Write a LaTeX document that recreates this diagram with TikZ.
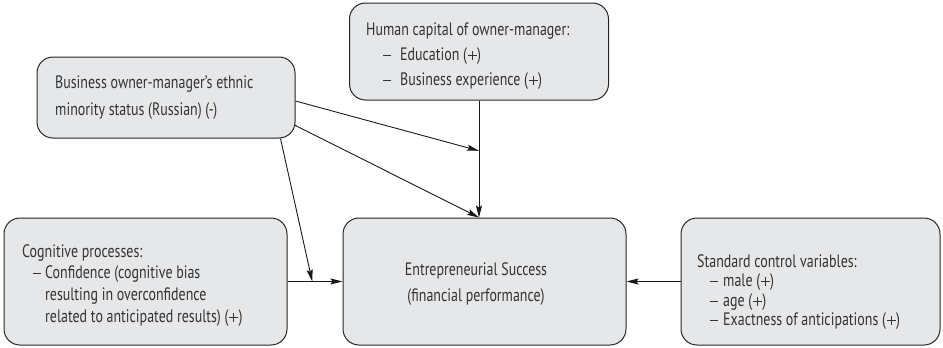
\documentclass[tikz,border=0pt]{standalone}
\usepackage{fontspec}
\setmainfont[FakeStretch=0.775]{PT Sans}
\usetikzlibrary{arrows.meta,calc}
\definecolor{boxfill}{HTML}{E6E7E9}
\definecolor{textcol}{HTML}{333333}
\newcommand\fstrut{\rule{0pt}{13.5pt}}
\newcommand\dsh{\raisebox{4.6pt}{\rule{8pt}{0.9pt}}}
\newcommand\itm[2]{\hspace*{#1}\makebox[#2][l]{\dsh}}
\newcommand\pl{\makebox[10pt]{\rlap{\hspace*{4pt}\rule[0.6pt]{0.9pt}{8.9pt}}\rule[4.6pt]{8.9pt}{0.9pt}}}
\begin{document}
\begin{tikzpicture}[x=1pt,y=-1pt,
  box/.style={draw=black!85, fill=boxfill, rounded corners=16pt, line width=1pt, inner sep=0pt},
  txt/.style={align=left, inner sep=0pt, anchor=north west, text=textcol},
  arr/.style={line width=0.9pt, draw=black!90, -{Stealth[length=12pt,width=6pt,inset=2pt]}},
]
\useasboundingbox (0,0) rectangle (943,348);

% boxes
\node[box, minimum width=258pt, minimum height=81pt] (ethnic) at (166,97.5) {};
\node[box, minimum width=259pt, minimum height=97pt] (human) at (479,51.5) {};
\node[box, minimum width=283pt, minimum height=127pt] (cog) at (145.5,281.5) {};
\node[box, minimum width=283pt, minimum height=127pt] (success) at (484.5,281.5) {};
\node[box, minimum width=259pt, minimum height=127pt] (std) at (810.5,281.5) {};

% texts
\node[txt, font=\fontsize{18}{27}\selectfont] (ethnicT) at (55,74.5)
  {\fstrut Business owner-manager’s ethnic\\minority status (Russian) (-)};
\node[txt, font=\fontsize{18}{25}\selectfont] (humanT) at (366,21.5)
  {\fstrut Human capital of owner-manager:\\
   \itm{17pt}{17pt}Education (\pl)\\
   \itm{17pt}{17pt}Business experience (\pl)};
\node[txt, font=\fontsize{18}{21.7}\selectfont] (cogT) at (22,243.5)
  {\fstrut Cognitive processes:\\
   \itm{11pt}{12pt}Confidence (cognitive bias\\
   \hspace*{23pt}resulting in overconfidence\\
   \hspace*{23pt}related to anticipated results) (\pl)};
\node[txt, font=\fontsize{18}{19.5}\selectfont] (stdT) at (697,253.5)
  {\fstrut Standard control variables:\\
   \itm{13pt}{13pt}male (\pl)\\
   \itm{13pt}{13pt}age (\pl)\\
   \itm{13pt}{13pt}Exactness of anticipations (\pl)};
\node[txt, align=center, anchor=north, font=\fontsize{18}{26.7}\selectfont] (successT) at (476,261.5)
  {\fstrut Entrepreneurial Success\\(financial performance)};

% helper points
\coordinate (top) at (success.north -| human.south);
\coordinate (m1) at ($(human.south)!0.43!(top)$);
\coordinate (m2) at ($(cog.east)!0.45!(success.west)$);

% connectors
\draw[arr] (human.south) -- (top);
\draw[arr] ([yshift=-3.5pt]ethnic.east) -- (m1);
\draw[arr] ([yshift=-27.5pt,xshift=-1pt]ethnic.east) -- (top);
\draw[arr] ([xshift=-15pt]ethnic.south east) -- (m2);
\draw[arr] (cog.east) -- (success.west);
\draw[arr] (std.west) -- (success.east);
\end{tikzpicture}
\end{document}
